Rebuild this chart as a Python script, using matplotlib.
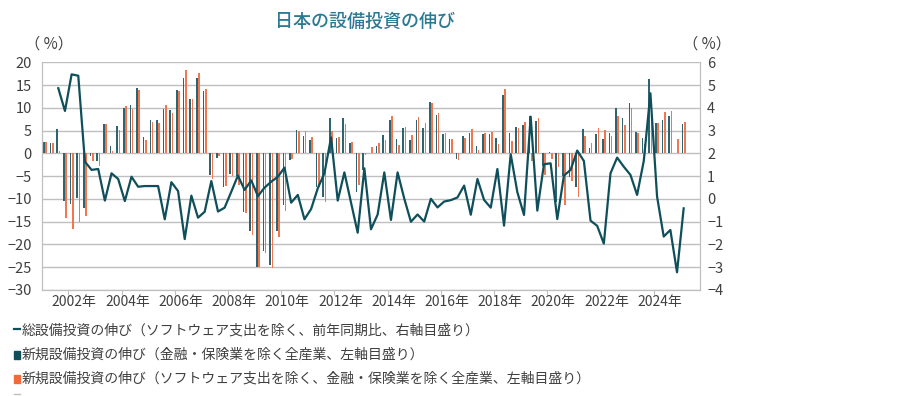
import matplotlib
matplotlib.use("Agg")
import matplotlib.pyplot as plt
import numpy as np
from matplotlib.lines import Line2D
from matplotlib.patches import Rectangle

plt.rcParams['font.family'] = ['Noto Sans CJK JP', 'DejaVu Sans']

# quarterly data, first category = 2001 Q1
# 新規設備投資の伸び（金融・保険業を除く全産業） left axis, %
new_capex = [2.5, 2.3, 5.4, -10.4, -11.1, -9.9, -12.1, -0.5, -1.7, 6.4,
             1.5, 6.0, 10.0, 10.7, 14.4, 3.5, 7.4, 7.3, 9.7, 9.5,
             13.9, 16.5, 12.0, 16.6, 13.6, -4.8, -1.1, -7.5, -4.6, -5.1,
             -12.8, -17.0, -24.9, -21.4, -24.5, -17.0, -11.4, -1.5, 5.1, 3.8,
             2.9, -7.3, -9.5, 7.7, 3.4, 7.7, 2.2, -8.5, -3.6, 0.0,
             1.6, 4.0, 7.4, 3.1, 5.5, 2.9, 7.4, 5.6, 11.2, 8.5,
             4.3, 3.1, -1.2, 3.9, 4.5, 1.5, 4.3, 4.3, 3.4, 12.8,
             4.5, 5.8, 6.2, 8.1, 7.1, -2.8, 0.3, -10.6, -5.0, -5.3,
             -7.5, 5.3, 1.2, 4.2, 3.1, 4.5, 9.9, 7.7, 11.0, 4.6,
             3.4, 16.3, 6.7, 7.3, 8.1, 0.1, 6.4]

# 新規設備投資の伸び（ソフトウェア支出を除く、金融・保険業を除く全産業） left axis, %
new_capex_ex_sw = [2.5, 2.3, 0.5, -14.3, -16.6, -15.2, -13.7, -1.7, -2.9, 6.4,
                   0.4, 5.1, 10.3, 9.7, 13.9, 2.9, 6.9, 6.7, 10.6, 8.9,
                   13.6, 18.3, 11.9, 17.6, 14.1, -5.6, -0.5, -7.1, -5.1, -7.0,
                   -13.2, -17.9, -25.1, -22.0, -25.3, -18.3, -12.7, -1.2, 4.8, 4.8,
                   3.5, -7.5, -10.8, 4.9, 3.5, 6.5, 2.4, -7.0, -0.3, 1.4,
                   2.3, 2.9, 8.3, 1.8, 5.7, 4.0, 8.0, 6.7, 11.1, 8.9,
                   4.4, 3.1, -1.4, 3.3, 5.3, 0.7, 4.4, 4.7, 2.1, 14.1,
                   2.6, 5.6, 6.9, -1.6, 7.8, -4.8, -1.3, -3.0, -11.4, -6.1,
                   -9.7, 3.7, 2.2, 5.5, 5.1, 3.7, 8.1, 6.2, 9.9, 4.4,
                   2.0, 11.0, 6.6, 9.0, 9.4, 3.1, 6.8]

# 総設備投資の伸び（ソフトウェア支出を除く、前年同期比） right axis, %, starts 2001 Q3
total_capex = [4.86, 3.86, 5.47, 5.41, 1.63, 1.27, 1.31, -0.08, 1.12, 0.87,
               -0.10, 0.97, 0.53, 0.56, 0.56, 0.56, -0.90, 0.73, 0.34, -1.77,
               0.14, -0.83, -0.57, 0.78, -0.56, -0.39, 0.31, 1.02, 0.39, 0.81,
               0.12, 0.49, 0.75, 0.97, 1.37, -0.17, 0.17, -0.90, -0.45, 0.46,
               1.12, 2.70, -0.08, 1.16, -0.17, -1.49, 1.34, -1.34, -0.69, 1.16,
               -0.93, 1.16, 0.01, -1.01, -0.69, -1.0, 0.0, -0.38, -0.12, -0.06,
               0.06, 0.58, -0.70, 0.87, -0.05, -0.39, 1.31, -1.18, 1.96, 0.29,
               -0.71, 3.61, -0.52, 1.52, 1.56, -0.89, 1.02, 1.27, 2.12, 1.66,
               -0.96, -1.19, -1.97, 1.12, 1.81, 1.41, 1.05, 0.17, 1.66, 4.64,
               0.10, -1.66, -1.37, -3.23, -0.42]
line_start = 2

year_labels = ['2002年', '2004年', '2006年', '2008年', '2010年', '2012年',
               '2014年', '2016年', '2018年', '2020年', '2022年', '2024年']
n_categories = 99

legend_labels = ['総設備投資の伸び（ソフトウェア支出を除く、前年同期比、右軸目盛り）',
                 '新規設備投資の伸び（金融・保険業を除く全産業、左軸目盛り）',
                 '新規設備投資の伸び（ソフトウェア支出を除く、金融・保険業を除く全産業、左軸目盛り）']

TEAL = '#0f4f5b'
TEAL_BAR = '#2e6470'
ORANGE = '#f06a3c'
ORANGE_BAR = '#f27650'
GRID = '#bfbfbf'
TEXT = '#404040'


def main():
    fig = plt.figure(figsize=(9.2, 3.96), dpi=100)
    ax = fig.add_axes([0.0453, 0.2682, 0.7159, 0.5745])

    x = np.arange(len(new_capex))
    ax.bar(x - 0.17, new_capex, width=0.24, color=TEAL_BAR, zorder=2)
    ax.bar(x + 0.17, new_capex_ex_sw, width=0.24, color=ORANGE_BAR, zorder=2)

    ax.set_xlim(-0.5, n_categories - 0.5)
    ax.set_ylim(-30, 20)
    ax.set_yticks(range(-30, 25, 5))
    ax.grid(axis='y', color=GRID, lw=1, zorder=0)
    ax.set_axisbelow(True)

    # tick marks at year boundaries, labels a bit to the right
    ax.set_xticks([3.5 + 8 * k for k in range(len(year_labels))])
    ax.set_xticklabels([''] * len(year_labels))
    ax.set_xticks([4.4 + 8 * k for k in range(len(year_labels))], minor=True)
    ax.set_xticklabels(year_labels, minor=True)
    ax.tick_params(axis='x', which='major', length=3.5, color=GRID, direction='out')
    ax.tick_params(axis='x', which='minor', length=0, pad=4, labelsize=10, labelcolor=TEXT)
    ax.tick_params(axis='y', length=0, pad=7, labelsize=10.5, labelcolor=TEXT)

    for side in ['left', 'right', 'bottom']:
        ax.spines[side].set_color(GRID)
    ax.spines['top'].set_visible(False)

    ax2 = ax.twinx()
    xl = np.arange(line_start, line_start + len(total_capex))
    ax2.plot(xl, total_capex, color=TEAL, lw=1.6, zorder=3)
    ax2.set_ylim(-4, 6)
    ax2.set_yticks(range(-4, 7))
    ax2.tick_params(axis='y', length=0, pad=5, labelsize=10.5, labelcolor=TEXT)
    for side in ['left', 'right', 'bottom']:
        ax2.spines[side].set_color(GRID)
    ax2.spines['top'].set_visible(False)

    fig.text(0.397, 0.945, '日本の設備投資の伸び', ha='center', va='center',
             fontsize=13, color='#2b7a93', fontweight='medium')
    fig.text(0.027, 0.888, '（ %）', ha='left', va='center', fontsize=11, color=TEXT)
    fig.text(0.742, 0.888, '（ %）', ha='left', va='center', fontsize=11, color=TEXT)

    # legend below the chart
    rows_y = [1 - 331 / 396, 1 - 355 / 396, 1 - 379 / 396]
    fig.add_artist(Line2D([14 / 920, 20 / 920], [rows_y[0] + 0.006] * 2,
                          color=TEAL, lw=1.6, transform=fig.transFigure))
    fig.add_artist(Rectangle((14 / 920, rows_y[1] - 0.009), 6 / 920, 0.018,
                             color=TEAL, transform=fig.transFigure))
    fig.add_artist(Rectangle((14 / 920, rows_y[2] - 0.009), 6 / 920, 0.018,
                             color=ORANGE, transform=fig.transFigure))
    fig.add_artist(Line2D([14 / 920, 20 / 920], [0.004] * 2,
                          color=GRID, lw=1, transform=fig.transFigure))
    for y, label in zip(rows_y, legend_labels):
        fig.text(22 / 920, y, label, ha='left', va='center', fontsize=10, color=TEXT)

    fig.savefig('out.png', dpi=100)


if __name__ == "__main__":
    main()
